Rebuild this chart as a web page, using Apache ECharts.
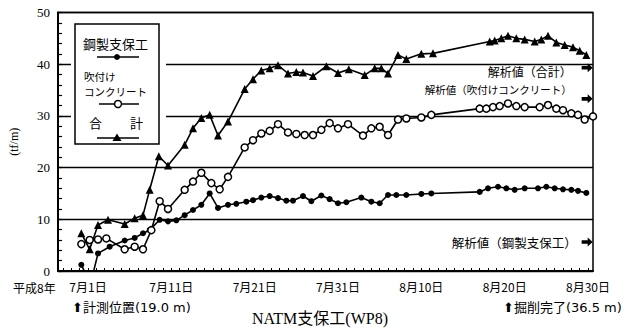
<!DOCTYPE html>
<html><head><meta charset="utf-8">
<script src="https://cdn.jsdelivr.net/npm/echarts@6/dist/echarts.min.js"></script>
<style>html,body{margin:0;padding:0;background:#fff}#c{width:637px;height:328px}</style>
</head><body><div id="c"></div>
<script>
// x = days since 1996-07-01 (平成8年7月1日)
const xTickDays = [0, 10, 20, 30, 40, 50, 60];
const xTickLabels = ['7月1日', '7月11日', '7月21日', '7月31日', '8月10日', '8月20日', '8月30日'];
const yTickValues = [0, 10, 20, 30, 40, 50];

const steelDays = [-0.8, 0.3, 1.2, 2.6, 4.4, 5.6, 6.6, 7.4, 8.6, 9.6, 10.6, 11.6, 12.6, 13.6, 14.6, 15.6, 16.8, 17.8, 19.0, 19.8, 20.8, 21.8, 22.8, 23.8, 24.6, 25.8, 26.8, 28.0, 29.0, 30.0, 31.0, 32.8, 34.0, 35.0, 36.0, 37.0, 38.2, 40.0, 41.2, 47.0, 48.0, 49.2, 50.2, 51.2, 52.4, 54.0, 55.0, 56.0, 57.0, 58.0, 58.8, 59.8];
const steelVals = [1.2, -2.5, 3.4, 4.7, 5.9, 6.4, 7.3, 7.9, 9.9, 9.6, 9.8, 10.8, 11.8, 12.8, 15.0, 12.2, 12.8, 13.0, 13.4, 13.7, 14.2, 14.5, 14.1, 13.6, 13.6, 14.5, 13.5, 14.6, 13.9, 13.1, 13.3, 14.2, 13.4, 13.1, 14.7, 14.7, 14.7, 14.9, 15.0, 15.3, 16.0, 16.3, 16.0, 15.7, 16.0, 16.0, 16.3, 16.0, 15.8, 15.7, 15.5, 15.1];

const concDays = [-0.8, 0.2, 1.2, 2.2, 4.4, 5.6, 6.6, 7.6, 8.6, 9.6, 11.6, 12.6, 13.6, 14.8, 15.8, 16.8, 18.8, 19.8, 20.8, 21.8, 22.8, 24.0, 25.0, 26.0, 27.0, 28.0, 29.0, 30.0, 31.2, 33.0, 34.0, 35.0, 36.0, 37.2, 38.2, 40.0, 41.2, 47.0, 47.8, 48.6, 49.4, 50.4, 51.4, 52.4, 54.2, 55.2, 56.2, 57.0, 58.0, 58.8, 59.6, 60.6];
const concVals = [5.2, 6.0, 6.1, 6.3, 4.2, 4.7, 4.2, 7.9, 13.5, 12.0, 15.7, 17.3, 19.0, 17.0, 15.8, 18.2, 23.9, 25.3, 26.6, 27.1, 28.4, 26.8, 26.5, 26.3, 26.3, 27.3, 28.6, 27.6, 28.4, 26.2, 27.6, 27.9, 26.3, 29.3, 29.5, 29.7, 30.2, 31.4, 31.4, 31.7, 31.9, 32.4, 31.9, 31.7, 31.7, 32.1, 31.4, 31.1, 30.5, 30.2, 29.3, 29.9];

const totalDays = [-0.8, 0.2, 1.2, 2.4, 4.4, 5.6, 6.6, 7.4, 8.5, 9.6, 11.6, 12.6, 13.6, 14.6, 15.6, 16.8, 18.8, 19.8, 20.8, 21.8, 22.8, 24.0, 25.0, 25.8, 27.0, 28.6, 30.0, 31.3, 33.2, 34.4, 35.2, 36.0, 37.2, 38.2, 40.0, 41.4, 48.2, 48.8, 49.6, 50.4, 51.4, 52.4, 53.6, 54.4, 55.2, 56.2, 57.2, 58.2, 59.0, 59.8];
const totalVals = [7.3, 4.2, 8.9, 9.9, 9.1, 10.2, 10.8, 15.7, 22.2, 20.4, 24.4, 27.6, 29.6, 30.2, 26.2, 28.9, 35.2, 37.1, 38.8, 39.2, 39.8, 38.2, 38.5, 38.4, 37.7, 39.6, 38.3, 39.0, 37.9, 39.2, 39.2, 38.2, 41.8, 41.0, 42.0, 42.1, 44.4, 44.6, 45.0, 45.5, 45.0, 44.8, 44.4, 44.8, 45.5, 44.2, 43.7, 43.3, 42.6, 41.8];

const analysisNames = ['解析値（合計）', '解析値（吹付けコンクリート）', '解析値（鋼製支保工）'];
const analysisVals = [39.3, 33.3, 5.6];
const analysisDay = 59.9;

const seriesNames = ['鋼製支保工', '吹付けコンクリート', '合計'];

const pairs = (d, v) => d.map((x, i) => [x, v[i]]);
const dailyTicks = [];
for (let d = -3; d <= 60; d++) dailyTicks.push(d);

const SERIF = 'Liberation Serif, Noto Sans CJK JP';
const CJK = 'Noto Sans CJK JP';

const chart = echarts.init(document.getElementById('c'), null, { renderer: 'svg' });
chart.setOption({
  animation: false,
  backgroundColor: '#fff',
  grid: { left: 58, right: 44, top: 12.5, bottom: 57, show: true, borderColor: '#000', borderWidth: 1.5 },
  xAxis: {
    type: 'value', min: -3.6, max: 60.6,
    axisLine: { show: true, onZero: false, lineStyle: { color: '#000', width: 2 } },
    axisTick: { show: true, customValues: dailyTicks, inside: true, length: 3, lineStyle: { color: '#000', width: 1 } },
    axisLabel: { customValues: xTickDays, formatter: v => xTickLabels[xTickDays.indexOf(Math.round(v))] || '',
      color: '#000', fontSize: 12, fontFamily: CJK, margin: 9 },
    splitLine: { show: false }
  },
  yAxis: {
    type: 'value', min: 0, max: 50, interval: 10,
    name: '(tf/m)', nameLocation: 'middle', nameGap: 38, nameRotate: 90,
    nameTextStyle: { fontSize: 12, color: '#000', fontFamily: SERIF, letterSpacing: 3 },
    axisLine: { show: true, onZero: false, lineStyle: { color: '#000', width: 2 } },
    axisTick: { show: true, inside: true, length: 4, lineStyle: { color: '#000', width: 1.2 } },
    minorTick: { show: true, splitNumber: 5, length: 4, lineStyle: { color: '#000', width: 1.2 } },
    axisLabel: { color: '#000', fontSize: 13, fontFamily: SERIF, margin: 8,
      formatter: v => yTickValues.includes(v) ? String(v) : '' },
    splitLine: { show: true, lineStyle: { color: '#000', width: 1.3 } }
  },
  series: [
    { name: seriesNames[0], type: 'line', data: pairs(steelDays, steelVals), symbol: 'circle', symbolSize: 6,
      itemStyle: { color: '#000' }, lineStyle: { color: '#000', width: 1.6 }, clip: true, z: 3 },
    { name: seriesNames[1], type: 'line', data: pairs(concDays, concVals), symbol: 'circle', symbolSize: 7,
      itemStyle: { color: '#fff', borderColor: '#000', borderWidth: 1.5 }, lineStyle: { color: '#000', width: 1.6 }, clip: true, z: 3 },
    { name: seriesNames[2], type: 'line', data: pairs(totalDays, totalVals), symbol: 'triangle', symbolSize: 8,
      itemStyle: { color: '#000' }, lineStyle: { color: '#000', width: 1.6 }, clip: true, z: 3 },
    { name: '解析値', type: 'scatter', z: 4,
      symbol: 'path://M0,3 L6,3 L6,0 L11,5 L6,10 L6,7 L0,7 Z', symbolSize: [11, 9],
      itemStyle: { color: '#000', opacity: 1 },
      data: analysisVals.map((v, i) => ({
        value: [analysisDay, v],
        label: {
          show: true, position: 'left', formatter: analysisNames[i], color: '#000', fontFamily: CJK,
          fontSize: [12, 10.5, 12.5][i], distance: [10, 10, 5][i], offset: [0, [4, -9, 0][i]]
        }
      }))
    }
  ],
  graphic: [
    { type: 'rect', shape: { x: 71, y: 19, width: 95, height: 130 }, style: { fill: '#fff' }, z: 100 },
    { type: 'rect', shape: { x: 75, y: 24, width: 84, height: 120 }, style: { fill: '#fff', stroke: '#000', lineWidth: 1.5 }, z: 101 },
    { type: 'text', x: 83, y: 43, style: { text: seriesNames[0], fontSize: 13, fontFamily: CJK, fill: '#000', verticalAlign: 'middle', letterSpacing: 1 }, z: 102 },
    { type: 'line', shape: { x1: 97, y1: 57, x2: 139, y2: 57 }, style: { stroke: '#000', lineWidth: 1.6 }, z: 102 },
    { type: 'circle', shape: { cx: 117, cy: 57, r: 3 }, style: { fill: '#000' }, z: 103 },
    { type: 'text', x: 84, y: 76, style: { text: '吹付け', fontSize: 10.5, fontFamily: CJK, fill: '#000', verticalAlign: 'middle', letterSpacing: 1 }, z: 102 },
    { type: 'text', x: 84, y: 91, style: { text: 'コンクリート', fontSize: 10.5, fontFamily: CJK, fill: '#000', verticalAlign: 'middle' }, z: 102 },
    { type: 'line', shape: { x1: 99, y1: 104, x2: 139, y2: 104 }, style: { stroke: '#000', lineWidth: 1.6 }, z: 102 },
    { type: 'circle', shape: { cx: 118, cy: 104, r: 3.5 }, style: { fill: '#fff', stroke: '#000', lineWidth: 1.5 }, z: 103 },
    { type: 'text', x: 89, y: 122, style: { text: '合', fontSize: 13, fontFamily: CJK, fill: '#000', verticalAlign: 'middle' }, z: 102 },
    { type: 'text', x: 130, y: 122, style: { text: '計', fontSize: 13, fontFamily: CJK, fill: '#000', verticalAlign: 'middle' }, z: 102 },
    { type: 'line', shape: { x1: 97, y1: 138, x2: 139, y2: 138 }, style: { stroke: '#000', lineWidth: 1.6 }, z: 102 },
    { type: 'polygon', shape: { points: [[117, 133.5], [121.5, 141], [112.5, 141]] }, style: { fill: '#000' }, z: 103 },
    { type: 'text', x: 13, y: 287, style: { text: '平成8年', fontSize: 12, fontFamily: CJK, fill: '#000', verticalAlign: 'middle' } },
    { type: 'text', x: 72, y: 307, style: { text: '⬆計測位置(19.0 m)', fontSize: 13, fontFamily: 'DejaVu Sans, Noto Sans CJK JP', fill: '#000', verticalAlign: 'middle' } },
    { type: 'text', x: 320, y: 318, style: { text: 'NATM支保工(WP8)', fontSize: 16, fontFamily: SERIF, fill: '#000', align: 'center', verticalAlign: 'middle', letterSpacing: 1 } },
    { type: 'text', x: 503, y: 307, style: { text: '⬆掘削完了(36.5 m)', fontSize: 13, fontFamily: 'DejaVu Sans, Noto Sans CJK JP', fill: '#000', verticalAlign: 'middle' } }
  ]
});
</script></body></html>
